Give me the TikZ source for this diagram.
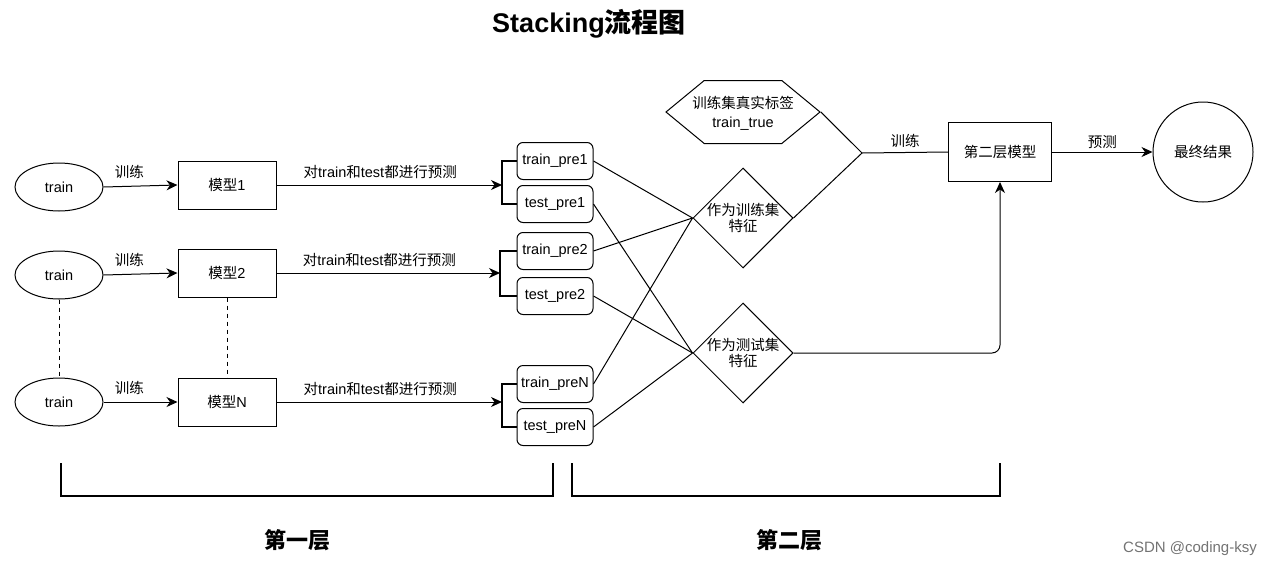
\documentclass[tikz,border=0pt]{standalone}
\usepackage{fontspec}
\setmainfont{Liberation Sans}
\newfontfamily\cjk{Noto Sans CJK SC}
\usetikzlibrary{arrows.meta,calc,positioning,shapes.geometric,shapes.symbols}

\begin{document}
\begin{tikzpicture}[x=1pt,y=-1pt,
  every node/.style={font=\fontsize{14.5}{16}\selectfont},
  zh/.style={font=\fontsize{14.5}{16}\selectfont\cjk},
  ell/.style={draw,line width=1pt,ellipse,minimum width=88pt,minimum height=48pt,inner sep=0pt},
  mdl/.style={draw,line width=1pt,rectangle,minimum width=98pt,minimum height=48pt,inner sep=0pt},
  pre/.style={draw,line width=1pt,rectangle,rounded corners=6pt,minimum width=76pt,minimum height=37pt,inner sep=0pt},
  dia/.style={draw,line width=1pt,diamond,minimum width=100pt,minimum height=100pt,inner sep=0pt},
  hexa/.style={draw,line width=1pt,signal,signal to=west and east,signal pointer angle=79,minimum width=154pt,minimum height=63pt,inner sep=0pt},
  arr/.style={line width=1pt,-{Stealth[length=11pt,width=10pt,inset=3.5pt]}},
  lin/.style={line width=1pt},
  brk/.style={line width=2.6pt},
  lay/.style={line width=2pt},
  dsh/.style={line width=1pt,dash pattern=on 4pt off 4pt}]
\useasboundingbox (0,0) rectangle (1273,568);

% title
\node[font=\fontsize{27}{30}\selectfont\bfseries] (title) at (589,24) {Stacking{\cjk 流程图}};

% first layer: data and models
\node[ell] (e1) at (59,187) {train};
\node[ell] (e2) at (59,275) {train};
\node[ell] (e3) at (59,402) {train};
\node[mdl] (m1) at (227,185) {{\cjk 模型}1};
\node[mdl] (m2) at (227,273) {{\cjk 模型}2};
\node[mdl] (mN) at (227,402) {{\cjk 模型}N};

\draw[arr] (e1.east) -- node[zh,above=4pt,pos=0.35] {训练} (m1.west);
\draw[arr] (e2.east) -- node[zh,above=4pt,pos=0.35] {训练} (m2.west);
\draw[arr] (e3.east) -- node[zh,above=4pt,pos=0.35] {训练} (mN.west);
\draw[dsh] (e2.south) -- (e3.north);
\draw[dsh] (m2.south) -- (mN.north);

% predictions
\node[pre] (tr1) at (555,161) {train\_pre1};
\node[pre] (te1) at (555,204) {test\_pre1};
\node[pre] (tr2) at (555,251) {train\_pre2};
\node[pre] (te2) at (555,296) {test\_pre2};
\node[pre] (trN) at (555,384) {train\_preN};
\node[pre] (teN) at (555,427) {test\_preN};

\coordinate (j1) at (502,185);
\coordinate (j2) at (500,273);
\coordinate (jN) at (502,402);
\draw[arr] (m1.east) -- node[above=2pt,pos=0.46] {{\cjk 对}train{\cjk 和}test{\cjk 都进行预测}} (j1);
\draw[arr] (m2.east) -- node[above=2pt,pos=0.46] {{\cjk 对}train{\cjk 和}test{\cjk 都进行预测}} (j2);
\draw[arr] (mN.east) -- node[above=2pt,pos=0.46] {{\cjk 对}train{\cjk 和}test{\cjk 都进行预测}} (jN);
\draw[brk] (tr1.west) -| (j1) |- (te1.west);
\draw[brk] (tr2.west) -| (j2) |- (te2.west);
\draw[brk] (trN.west) -| (jN) |- (teN.west);

% second layer
\node[dia] (d1) at (743,218) {};
\node[zh,align=center] (d1t) at (d1) {作为训练集\\特征};
\node[dia] (d2) at (743,353) {};
\node[zh,align=center] (d2t) at (d2) {作为测试集\\特征};
\node[hexa] (hex) at (743,112) {};
\node[align=center] (hext) at (743,113) {{\cjk 训练集真实标签}\\[3pt]train\_true};

\draw[lin] (tr1.east) -- (d1.west);
\draw[lin] (tr2.east) -- (d1.west);
\draw[lin] (trN.east) -- (d1.west);
\draw[lin] (te1.east) -- (d2.west);
\draw[lin] (te2.east) -- (d2.west);
\draw[lin] (teN.east) -- (d2.west);

\node[mdl,minimum width=103pt,minimum height=59pt] (s2) at (1000,152) {\cjk 第二层模型};
\node[draw,line width=1pt,circle,minimum size=100pt,inner sep=0pt] (res) at (1203,152) {\cjk 最终结果};

\coordinate (mg) at (862,153);
\draw[lin] (hex.east) -- (mg);
\draw[lin] (d1.east) -- (mg);
\draw[lin] (mg) -- node[zh,above=1pt] {训练} (s2.west);
\draw[arr] (s2.east) -- node[zh,above=0pt] {预测} (res.west);
\draw[arr,rounded corners=8pt] (d2.east) -| (s2.south);

% layer brackets
\draw[lay] (61,463) -- (61,496) -- (553,496) -- (553,463);
\draw[lay] (572,463) -- (572,496) -- (1000,496) -- (1000,463);
\node[font=\fontsize{22}{24}\selectfont\bfseries\cjk] (lay1) at (297,540) {第一层};
\node[font=\fontsize{22}{24}\selectfont\bfseries\cjk] (lay2) at (789,540) {第二层};

\node[text=black!55,font=\fontsize{15}{17}\selectfont] (wm) at (1190,549) {CSDN @coding-ksy};
\end{tikzpicture}
\end{document}
